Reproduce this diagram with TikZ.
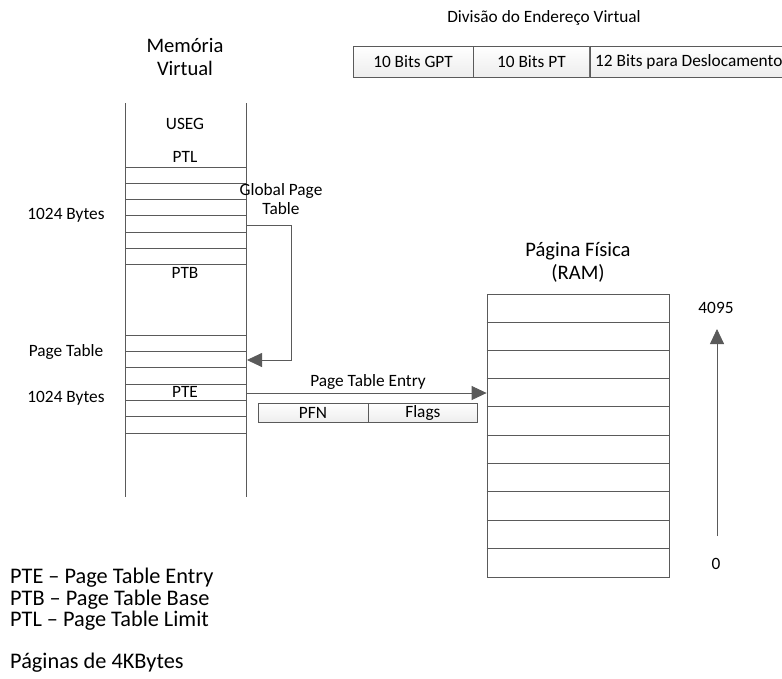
\documentclass[tikz,border=0pt]{standalone}
\usepackage{fontspec}
\setmainfont{Carlito}
\usetikzlibrary{arrows.meta,positioning}
\definecolor{edge}{HTML}{5A5A5A}
\definecolor{fill}{HTML}{EDEDED}

\begin{document}
\begin{tikzpicture}[
  x=1pt,y=-1pt,
  lbl/.style={font=\fontsize{17.3}{19.5}\selectfont,align=center},
  title/.style={font=\fontsize{20.6}{23}\selectfont,align=center},
  legend/.style={font=\fontsize{22.3}{25}\selectfont,anchor=west,inner sep=0pt},
  field/.style={draw=edge,lbl,inner sep=0pt,top color=white,bottom color=fill},
  arrow/.style={-{Triangle[length=15pt,width=14pt]},draw=edge,line width=0.8pt},
  wire/.style={draw=edge,line width=0.8pt}
]
\useasboundingbox (0,0) rectangle (782,678);

% endereco virtual
\node[lbl] (divtitle) at (544,18) {Divisão do Endereço Virtual};
\node[field,minimum width=120pt,minimum height=31pt] (gptbits) at (413,61.5) {10 Bits GPT};
\node[field,minimum width=116pt,minimum height=31pt,right=0pt of gptbits] (ptbits) {10 Bits PT};
\node[field,minimum width=198pt,minimum height=31pt,right=0pt of ptbits] (offbits) {12 Bits para Deslocamento};

% memoria virtual
\node[title] (vmtitle) at (185,57) {Memória\\Virtual};
\draw[wire] (125,103) -- (125,497);
\draw[wire] (246,103) -- (246,497);
\foreach \y in {167,183,199,215,232,248,264,335,351,367,384,400,416,433}
  \draw[wire] (125,\y) -- (246,\y);
\node[lbl] (useg) at (185,124) {USEG};
\node[lbl] (ptl) at (185,157) {PTL};
\node[lbl] (ptb) at (185,273) {PTB};
\node[lbl] (pte) at (185,392) {PTE};
\node[lbl] (gpt) at (281,199) {Global Page\\Table};
\node[lbl] (kb1) at (66,215) {1024 Bytes};
\node[lbl] (pt) at (66,352) {Page Table};
\node[lbl] (kb2) at (66,398) {1024 Bytes};
\coordinate (gptout) at (246,225);
\coordinate (ptin) at (247,360);
\coordinate (pteout) at (246,393);

% pagina fisica
\node[title] (ramtitle) at (578,262) {Página Física\\(RAM)};
\node[draw=edge,line width=0.8pt,minimum width=182pt,minimum height=283pt,inner sep=0pt] (ram) at (578,435.5) {};
\foreach \i in {1,...,9}
  \draw[wire] ([yshift=-\i*28.3pt]ram.north west) -- ([yshift=-\i*28.3pt]ram.north east);
\node[lbl] (top) at (716,308) {4095};
\node[lbl] (bottom) at (716,564) {0};
\coordinate (up0) at (717,536);
\coordinate (up1) at (717,329);
\draw[arrow] (up0) -- (up1);

% ligacoes
\draw[arrow] (gptout) -| (291,360) -- (ptin);
\draw[arrow] (pteout) -- (pteout -| ram.west);
\node[lbl] (ptelabel) at (368,382) {Page Table Entry};
\node[field,minimum width=110pt,minimum height=19pt] (pfn) at (313,412.5) {PFN};
\node[field,minimum width=109pt,minimum height=19pt,right=0pt of pfn] (flags) {Flags};

% legenda
\node[legend] (legpte) at (10,578) {PTE – Page Table Entry};
\node[legend] (legptb) at (10,600) {PTB – Page Table Base};
\node[legend] (legptl) at (10,621) {PTL – Page Table Limit};
\node[legend] (pages) at (10,663) {Páginas de 4KBytes};
\end{tikzpicture}
\end{document}
